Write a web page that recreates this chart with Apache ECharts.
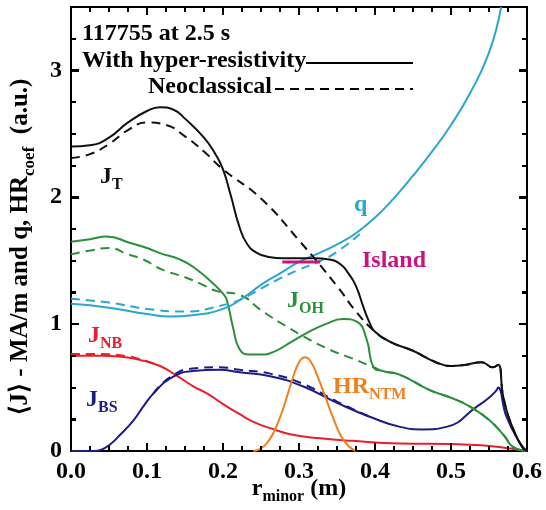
<!DOCTYPE html>
<html>
<head>
<meta charset="utf-8">
<script src="https://cdn.jsdelivr.net/npm/echarts@6/dist/echarts.min.js"></script>
<style>
html,body{margin:0;padding:0;background:#fff;}
#chart{width:546px;height:510px;}
</style>
</head>
<body>
<div id="chart"></div>
<script>
// ---------- data ----------
const xTicks = [0.0, 0.1, 0.2, 0.3, 0.4, 0.5, 0.6];
const yTicks = [0, 1, 2, 3];

// J_T with hyper-resistivity (solid black)
const jtX = [0, 0.025, 0.05, 0.075, 0.1, 0.117, 0.135, 0.15, 0.175, 0.19, 0.2, 0.21, 0.222, 0.232, 0.245, 0.26, 0.28, 0.3, 0.32, 0.34, 0.355, 0.365, 0.375, 0.385, 0.393, 0.4, 0.42, 0.45, 0.48, 0.5, 0.52, 0.54, 0.555, 0.562, 0.569, 0.582, 0.595, 0.6];
const jtY = [2.40, 2.41, 2.47, 2.59, 2.68, 2.71, 2.69, 2.62, 2.47, 2.34, 2.22, 2.02, 1.76, 1.63, 1.56, 1.53, 1.52, 1.52, 1.52, 1.51, 1.47, 1.40, 1.30, 1.13, 1.01, 0.94, 0.86, 0.79, 0.70, 0.67, 0.68, 0.70, 0.66, 0.68, 0.42, 0.17, 0.02, 0];
// J_T neoclassical (dashed black)
const jtnX = [0, 0.025, 0.05, 0.075, 0.1, 0.125, 0.15, 0.175, 0.2, 0.25, 0.3, 0.35, 0.375, 0.4, 0.42, 0.45, 0.48, 0.5, 0.52, 0.54, 0.555, 0.562, 0.569, 0.582, 0.595, 0.6];
const jtnY = [2.31, 2.34, 2.42, 2.53, 2.59, 2.57, 2.48, 2.36, 2.22, 1.99, 1.66, 1.30, 1.10, 0.94, 0.86, 0.79, 0.70, 0.67, 0.68, 0.70, 0.66, 0.68, 0.42, 0.17, 0.02, 0];

// q (cyan)
const qX = [0, 0.05, 0.1, 0.13, 0.16, 0.2, 0.225, 0.25, 0.275, 0.3, 0.33, 0.36, 0.38, 0.4, 0.42, 0.45, 0.475, 0.5, 0.525, 0.55, 0.566];
const qY = [1.16, 1.13, 1.08, 1.06, 1.07, 1.12, 1.20, 1.31, 1.40, 1.49, 1.57, 1.66, 1.74, 1.84, 1.96, 2.17, 2.36, 2.57, 2.82, 3.14, 3.50];
const qnX = [0, 0.05, 0.1, 0.15, 0.2, 0.225, 0.25, 0.275, 0.3, 0.325, 0.35, 0.38];
const qnY = [1.20, 1.17, 1.12, 1.10, 1.15, 1.20, 1.28, 1.36, 1.43, 1.49, 1.57, 1.71];

// J_OH (green)
const ohX = [0, 0.025, 0.047, 0.078, 0.1, 0.117, 0.143, 0.161, 0.187, 0.2, 0.205, 0.213, 0.222, 0.235, 0.25, 0.266, 0.29, 0.31, 0.335, 0.358, 0.376, 0.389, 0.398, 0.41, 0.433, 0.472, 0.5, 0.525, 0.551, 0.57, 0.582, 0.6];
const ohY = [1.65, 1.67, 1.69, 1.64, 1.60, 1.56, 1.51, 1.45, 1.32, 1.24, 1.19, 0.98, 0.80, 0.76, 0.76, 0.78, 0.86, 0.93, 1.00, 1.04, 1.02, 0.88, 0.66, 0.63, 0.60, 0.48, 0.42, 0.35, 0.24, 0.12, 0.03, 0];
const ohnX = [0, 0.025, 0.05, 0.075, 0.095, 0.12, 0.15, 0.17, 0.192, 0.222, 0.25, 0.284, 0.31, 0.34, 0.37, 0.398, 0.41, 0.433, 0.472, 0.5, 0.525, 0.551, 0.57, 0.582, 0.6];
const ohnY = [1.55, 1.58, 1.60, 1.55, 1.51, 1.43, 1.37, 1.32, 1.26, 1.23, 1.11, 0.98, 0.89, 0.80, 0.73, 0.66, 0.63, 0.60, 0.48, 0.42, 0.35, 0.24, 0.12, 0.03, 0];

// J_NB (red)
const nbX = [0, 0.04, 0.07, 0.09, 0.117, 0.14, 0.161, 0.18, 0.2, 0.222, 0.24, 0.262, 0.29, 0.328, 0.37, 0.433, 0.5, 0.54, 0.57, 0.6];
const nbY = [0.75, 0.75, 0.74, 0.72, 0.67, 0.59, 0.51, 0.45, 0.37, 0.29, 0.23, 0.18, 0.13, 0.10, 0.08, 0.06, 0.055, 0.045, 0.025, 0];
const nbnX = [0, 0.04, 0.07, 0.09, 0.117];
const nbnY = [0.765, 0.765, 0.75, 0.725, 0.67];

// J_BS (navy)
const bsX = [0, 0.03, 0.04, 0.051, 0.065, 0.082, 0.095, 0.108, 0.13, 0.16, 0.196, 0.222, 0.262, 0.305, 0.35, 0.393, 0.433, 0.463, 0.494, 0.534, 0.55, 0.56, 0.562, 0.573, 0.591, 0.6];
const bsY = [0, 0, 0.01, 0.05, 0.13, 0.24, 0.35, 0.45, 0.57, 0.63, 0.64, 0.62, 0.59, 0.51, 0.38, 0.27, 0.19, 0.17, 0.19, 0.35, 0.42, 0.48, 0.50, 0.27, 0.06, 0];
const bsnX = [0.108, 0.13, 0.16, 0.196, 0.222, 0.262, 0.305, 0.35, 0.393];
const bsnY = [0.45, 0.58, 0.65, 0.66, 0.64, 0.61, 0.53, 0.39, 0.27];

// HR_NTM (orange)
const hrX = [0.24, 0.25, 0.26, 0.27, 0.28, 0.29, 0.3, 0.308, 0.315, 0.325, 0.335, 0.345, 0.355, 0.365, 0.375];
const hrY = [0, 0.02, 0.08, 0.19, 0.35, 0.54, 0.70, 0.74, 0.71, 0.58, 0.42, 0.26, 0.12, 0.04, 0];

// Island (magenta)
const islandX = [0.278, 0.328];
const islandY = [1.49, 1.49];

// ---------- chart ----------
const zip = (xs, ys) => xs.map((x, i) => [x, ys[i]]);
const FONT = '"Liberation Serif", "Times New Roman", serif';
const C = {
  black: '#111111', cyan: '#2ba6cf', green: '#2b8f37', red: '#e8202a',
  navy: '#1d1b88', orange: '#f0801f', magenta: '#c8147e'
};
const X_MIN = 0, X_MAX = 0.6, X_MINOR = 0.025;
const Y_MIN = 0, Y_MAX = 3.5, Y_MINOR = 0.25;

function line(name, xs, ys, color, dashed, extra) {
  return Object.assign({
    name, type: 'line', data: zip(xs, ys), showSymbol: false, symbol: 'none',
    smooth: 0.5, silent: true,
    lineStyle: { color, width: 2, type: dashed ? [9, 6] : 'solid' }
  }, extra || {});
}

function rich(color, big, small) {
  big = big || 24; small = small || 16;
  return {
    m: { fontFamily: FONT, fontWeight: 'bold', fontSize: big, lineHeight: big, verticalAlign: 'top', color },
    s: { fontFamily: FONT, fontWeight: 'bold', fontSize: small, lineHeight: small, verticalAlign: 'top',
         padding: [Math.round(big * 0.5), 0, 0, 0], color }
  };
}
function label(x, y, text, color) {
  return {
    type: 'text', left: x, top: y, silent: true,
    style: { text, rich: rich(color), fill: color }
  };
}

function axisBase() {
  return {
    type: 'value',
    axisLine: { show: true, onZero: false, lineStyle: { color: '#000', width: 2 } },
    axisTick: { show: true, inside: true, length: 8, lineStyle: { color: '#000', width: 2 } },
    minorTick: { show: true, splitNumber: 4, length: 5, lineStyle: { color: '#000', width: 2 } },
    splitLine: { show: false }
  };
}

const baseGraphic = [
  // axis titles
  { type: 'text', x: 299, y: 477, silent: true,
    style: { text: '{m|r}{s|minor}{m| (m)}', rich: rich('#000'), align: 'center', verticalAlign: 'top' } },
  { type: 'text', x: 21, y: 247, rotation: Math.PI / 2, silent: true,
    style: { text: '{m|⟨J⟩ - MA/m and q, HR}{s|coef}{m|  (a.u.)}', rich: rich('#000', 25, 17),
             align: 'center', verticalAlign: 'middle' } },
  // in-plot legend text
  { type: 'text', left: 82, top: 22, silent: true,
    style: { text: '117755 at 2.5 s', font: 'bold 24px ' + FONT, fill: '#000' } },
  { type: 'text', left: 82, top: 49, silent: true,
    style: { text: 'With hyper-resistivity', font: 'bold 24px ' + FONT, fill: '#000' } },
  { type: 'text', right: 274, top: 75, silent: true,
    style: { text: 'Neoclassical', font: 'bold 24px ' + FONT, fill: '#000', textAlign: 'right' } },
  { type: 'line', silent: true, shape: { x1: 306, y1: 63, x2: 413, y2: 63 },
    style: { stroke: '#000', lineWidth: 2 } },
  { type: 'line', silent: true, shape: { x1: 275, y1: 89, x2: 413, y2: 89 },
    style: { stroke: '#000', lineWidth: 2, lineDash: [9, 6] } },
  // curve labels
  label(100, 165, '{m|J}{s|T}', C.black),
  label(354, 193, '{m|q}', C.cyan),
  label(362, 249, '{m|Island}', C.magenta),
  label(287, 289, '{m|J}{s|OH}', C.green),
  label(88, 324, '{m|J}{s|NB}', C.red),
  label(86, 388, '{m|J}{s|BS}', C.navy),
  label(333, 375, '{m|HR}{s|NTM}', C.orange)
];

const option = {
  animation: false,
  grid: { left: 71, right: 19, top: 7, bottom: 59, outerBoundsMode: 'none' },
  xAxis: [
    Object.assign(axisBase(), {
      min: X_MIN, max: X_MAX, interval: 0.1, position: 'bottom',
      axisLabel: {
        show: true, margin: 9, color: '#000', fontFamily: FONT, fontWeight: 'bold', fontSize: 24,
        formatter: v => { const t = xTicks.find(k => Math.abs(k - v) < 1e-9); return t === undefined ? '' : t.toFixed(1); }
      }
    }),
    Object.assign(axisBase(), {
      min: X_MIN, max: X_MAX, interval: 0.1, position: 'top', axisLabel: { show: false }
    })
  ],
  yAxis: [
    Object.assign(axisBase(), {
      min: Y_MIN, max: Y_MAX, interval: 1, position: 'left',
      axisLabel: {
        show: true, margin: 9, color: '#000', fontFamily: FONT, fontWeight: 'bold', fontSize: 24,
        showMaxLabel: false,
        formatter: v => { const t = yTicks.find(k => Math.abs(k - v) < 1e-9); return t === undefined ? '' : String(t); }
      }
    }),
    Object.assign(axisBase(), {
      min: Y_MIN, max: Y_MAX, interval: 1, position: 'right', axisLabel: { show: false }
    })
  ],
  series: [
    line('J_NB neo', nbnX, nbnY, C.red, true),
    line('J_NB', nbX, nbY, C.red, false),
    line('J_BS neo', bsnX, bsnY, C.navy, true),
    line('J_BS', bsX, bsY, C.navy, false),
    line('HR_NTM', hrX, hrY, C.orange, false),
    line('J_OH neo', ohnX, ohnY, C.green, true),
    line('J_OH', ohX, ohY, C.green, false),
    line('q neo', qnX, qnY, C.cyan, true),
    line('q', qX, qY, C.cyan, false),
    line('J_T neo', jtnX, jtnY, C.black, true),
    line('J_T', jtX, jtY, C.black, false),
    line('Island', islandX, islandY, C.magenta, false, { smooth: false, lineStyle: { color: C.magenta, width: 3 } })
  ],
  graphic: baseGraphic
};

const chart = echarts.init(document.getElementById('chart'));
chart.setOption(option);

// Frame ticks on all four sides, placed through the chart's own axis scales
// (ensures the inward ticks are visible on every side of the frame).
(function addFrameTicks() {
  const px = v => chart.convertToPixel({ xAxisIndex: 0 }, v);
  const py = v => chart.convertToPixel({ yAxisIndex: 0 }, v);
  const left = px(X_MIN), right = px(X_MAX), bottom = py(Y_MIN), top = py(Y_MAX);
  const els = [];
  const seg = (x1, y1, x2, y2) => els.push({
    type: 'line', silent: true, z: 10,
    shape: { x1, y1, x2, y2 }, style: { stroke: '#000', lineWidth: 2 }
  });
  const nX = Math.round((X_MAX - X_MIN) / X_MINOR);
  for (let i = 1; i < nX; i++) {
    const v = X_MIN + i * X_MINOR;
    const major = i % 4 === 0;
    const len = major ? 8 : 5;
    const x = Math.round(px(v));
    seg(x, bottom, x, bottom - len);
    seg(x, top, x, top + len);
  }
  const nY = Math.round((Y_MAX - Y_MIN) / Y_MINOR);
  for (let i = 1; i < nY; i++) {
    const v = Y_MIN + i * Y_MINOR;
    const major = i % 4 === 0;
    const len = major ? 8 : 5;
    const y = Math.round(py(v));
    seg(left, y, left + len, y);
    seg(right, y, right - len, y);
  }
  chart.setOption({ graphic: baseGraphic.concat(els) });
})();
</script>
</body>
</html>
